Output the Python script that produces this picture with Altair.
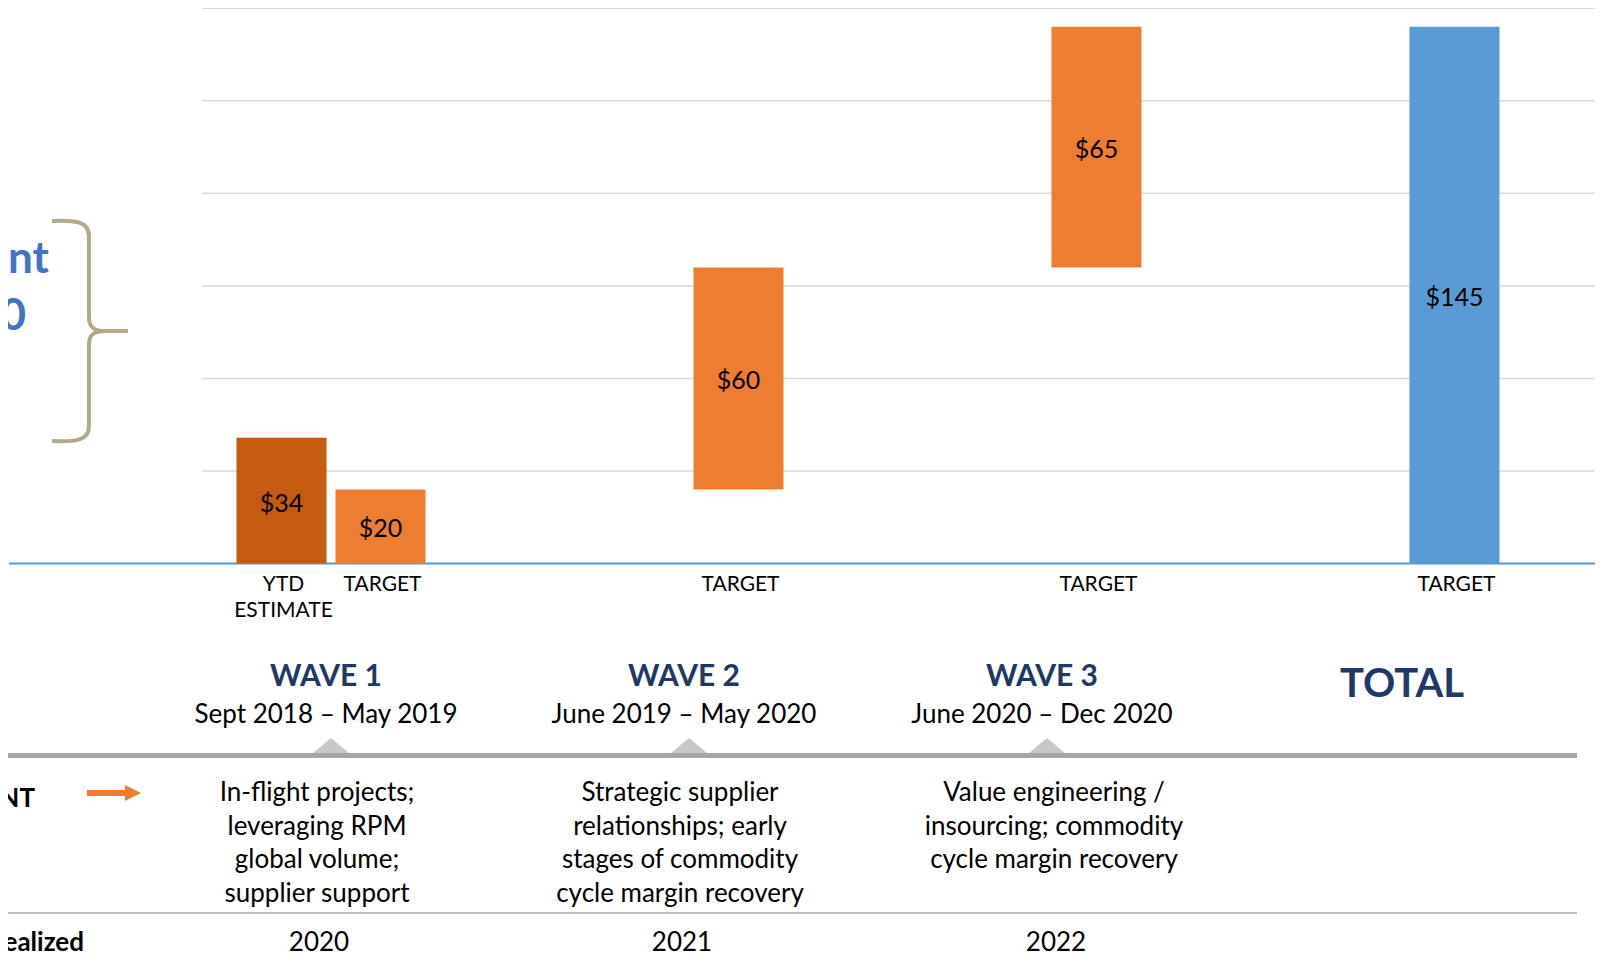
import altair as alt
import pandas as pd

# ---------------- data ----------------
groups = ["Wave 1", "Wave 2", "Wave 3", "Total"]
bar_groups = ["Wave 1", "Wave 1", "Wave 2", "Wave 3", "Total"]
bar_subs = ["YTD ESTIMATE", "TARGET", "TARGET", "TARGET", "TARGET"]
bar_kinds = ["ytd", "target", "target", "target", "total"]
bar_values = [34, 20, 60, 65, 145]
axis_labels = ["YTD\nESTIMATE", "TARGET", "TARGET", "TARGET", "TARGET"]

wave_groups = ["Wave 1", "Wave 2", "Wave 3"]
wave_titles = ["WAVE 1", "WAVE 2", "WAVE 3"]
wave_periods = ["Sept 2018 – May 2019", "June 2019 – May 2020", "June 2020 – Dec 2020"]
wave_desc = [
    "In-flight projects;\nleveraging RPM\nglobal volume;\nsupplier support",
    "Strategic supplier\nrelationships; early\nstages of commodity\ncycle margin recovery",
    "Value engineering /\ninsourcing; commodity\ncycle margin recovery",
]
wave_years = ["2020", "2021", "2022"]
grid_values = [0, 25, 50, 75, 100, 125, 150]

# waterfall bases (computed from the values)
starts, ends = [], []
run = 0
for k, v in zip(bar_kinds, bar_values):
    if k == "target":
        starts.append(run); ends.append(run + v); run += v
    else:
        starts.append(0); ends.append(v)

bars = pd.DataFrame({
    "grp": bar_groups, "sub": bar_subs, "kind": bar_kinds,
    "start": starts, "end": ends,
    "mid": [(a + b) / 2 for a, b in zip(starts, ends)],
    "label": [f"${v}" for v in bar_values],
    "axis": axis_labels,
})
waves = pd.DataFrame({"grp": wave_groups, "title": wave_titles, "period": wave_periods,
                      "desc": wave_desc, "year": wave_years})
total_df = pd.DataFrame({"grp": ["Total"], "title": ["TOTAL"]})
grid = pd.DataFrame({"v": grid_values})
zero = pd.DataFrame({"v": [0]})
one = pd.DataFrame({"k": [0]})

W, H = 1587, 948
FONT = "Lato"

xscale = alt.Scale(domain=groups, paddingInner=0.4721, paddingOuter=0.4526, align=0.7052)
X = alt.X("grp:N", scale=xscale, axis=None)
XO = alt.XOffset("sub:N", scale=alt.Scale(domain=["YTD ESTIMATE", "TARGET"], paddingInner=0.0909, paddingOuter=0))
yscale = alt.Scale(domain=[0, 150], range=[555.5, 0.3])

gridlines = alt.Chart(grid).mark_rule(color="#D9D9D9", strokeWidth=1.5).encode(
    y=alt.Y("v:Q", scale=yscale, axis=None), x=alt.value(194), x2=alt.value(W))

baseline = alt.Chart(zero).mark_rule(color="#5B9BD5", strokeWidth=2).encode(
    y=alt.Y("v:Q", scale=yscale, axis=None), x=alt.value(1), x2=alt.value(W))

barmarks = alt.Chart(bars).mark_bar().encode(
    x=X, xOffset=XO,
    y=alt.Y("start:Q", scale=yscale, axis=None), y2="end:Q",
    color=alt.Color("kind:N", scale=alt.Scale(domain=["ytd", "target", "total"],
                                              range=["#C55A11", "#ED7D31", "#5B9BD5"]), legend=None),
)

barlabels = alt.Chart(bars).mark_text(font=FONT, fontSize=25, color="#000000", baseline="middle", dy=3).encode(
    x=X, xOffset=XO, y=alt.Y("mid:Q", scale=yscale, axis=None), text="label:N")

axislabels = alt.Chart(bars).mark_text(font=FONT, fontSize=21, color="#000000", baseline="alphabetic",
                                       lineBreak="\n", lineHeight=26, dx=2).encode(
    x=X, xOffset=XO, y=alt.value(583), text="axis:N")

titles = alt.Chart(waves).mark_text(font=FONT, fontSize=30, fontWeight="bold", color="#1F3864",
                                    baseline="alphabetic", dx=-5).encode(
    x=X, y=alt.value(678), text="title:N")

periods = alt.Chart(waves).mark_text(font=FONT, fontSize=26, color="#000000",
                                     baseline="alphabetic", dx=-5).encode(
    x=X, y=alt.value(715), text="period:N")

total_title = alt.Chart(total_df).mark_text(font=FONT, fontSize=40, fontWeight="bold", color="#1F3864",
                                            baseline="alphabetic", dx=-3).encode(
    x=X, y=alt.value(689), text="title:N")

tri = alt.Chart(waves).mark_point(shape="M -1 0.42 L 0 -0.42 L 1 0.42 Z", filled=True, size=1296,
                                  color="#C8C8C8", opacity=1).encode(x=X, y=alt.value(737.5))

sep = alt.Chart(one).mark_rule(color="#A6A6A6", strokeWidth=5).encode(
    x=alt.value(0), x2=alt.value(1569), y=alt.value(747.5))
thin = alt.Chart(one).mark_rule(color="#BFBFBF", strokeWidth=2).encode(
    x=alt.value(0), x2=alt.value(1569), y=alt.value(905))

# per-column nudges of the text table (layout only)
desc_nudge = [-14, -9, 7]
year_nudge = [-12, -7, 9]
desc_layers, year_layers = [], []
for g, dd, yd in zip(wave_groups, desc_nudge, year_nudge):
    desc_layers.append(
        alt.Chart(waves).transform_filter(alt.datum.grp == g).mark_text(
            font=FONT, fontSize=26, color="#000000", baseline="alphabetic",
            lineBreak="\n", lineHeight=33.5, dx=dd).encode(x=X, y=alt.value(793), text="desc:N"))
    year_layers.append(
        alt.Chart(waves).transform_filter(alt.datum.grp == g).mark_text(
            font=FONT, fontSize=26, color="#000000", baseline="alphabetic", dx=yd).encode(
            x=X, y=alt.value(943), text="year:N"))

arrow_shaft = alt.Chart(one).mark_rule(color="#ED7D31", strokeWidth=6).encode(
    x=alt.value(79), x2=alt.value(120), y=alt.value(785))
arrow_head = alt.Chart(one).mark_point(shape="M -1 -1 L 1 0 L -1 1 Z", filled=True, size=256,
                                       color="#ED7D31", opacity=1).encode(x=alt.value(125), y=alt.value(785))

brace = alt.Chart(one).mark_point(
    shape=("M -0.345 -1 C -0.15 -1.01 -0.01 -1.0 -0.01 -0.87 L -0.01 -0.13 "
           "C -0.01 -0.03 0.04 0 0.14 0 L 0.345 0 M 0.14 0 C 0.04 0 -0.01 0.03 -0.01 0.13 "
           "L -0.01 0.87 C -0.01 1.0 -0.15 1.01 -0.345 1"),
    filled=False, size=48400, strokeWidth=4, color="#B1AA86", opacity=1,
).encode(x=alt.value(82), y=alt.value(323))

frag_nt = alt.Chart(one).mark_text(text="nt", font=FONT, fontSize=44, fontWeight="bold", color="#4472C4",
                                   align="left", baseline="alphabetic").encode(x=alt.value(0), y=alt.value(265))
frag_0 = alt.Chart(one).mark_text(text="0", font=FONT, fontSize=44, fontWeight="bold", color="#4472C4",
                                  align="right", baseline="alphabetic").encode(x=alt.value(18), y=alt.value(322))
frag_NT = alt.Chart(one).mark_text(text="NT", font=FONT, fontSize=26, fontWeight="bold", color="#000000",
                                   align="right", baseline="alphabetic").encode(x=alt.value(27), y=alt.value(799))
frag_real = alt.Chart(one).mark_text(text="ealized", font=FONT, fontSize=26, fontWeight="bold", color="#000000",
                                     align="right", baseline="alphabetic").encode(x=alt.value(76), y=alt.value(943))

chart = alt.layer(
    gridlines, baseline, barmarks, barlabels, axislabels,
    tri, sep, thin, titles, periods, total_title, *desc_layers, *year_layers,
    arrow_shaft, arrow_head, brace, frag_nt, frag_0, frag_NT, frag_real,
).properties(
    width=W, height=H, padding=0, background="white",
    autosize=alt.AutoSizeParams(type="none"),
).configure_view(stroke=None)

chart.save("out.html", embed_options={"renderer": "svg", "actions": False})
